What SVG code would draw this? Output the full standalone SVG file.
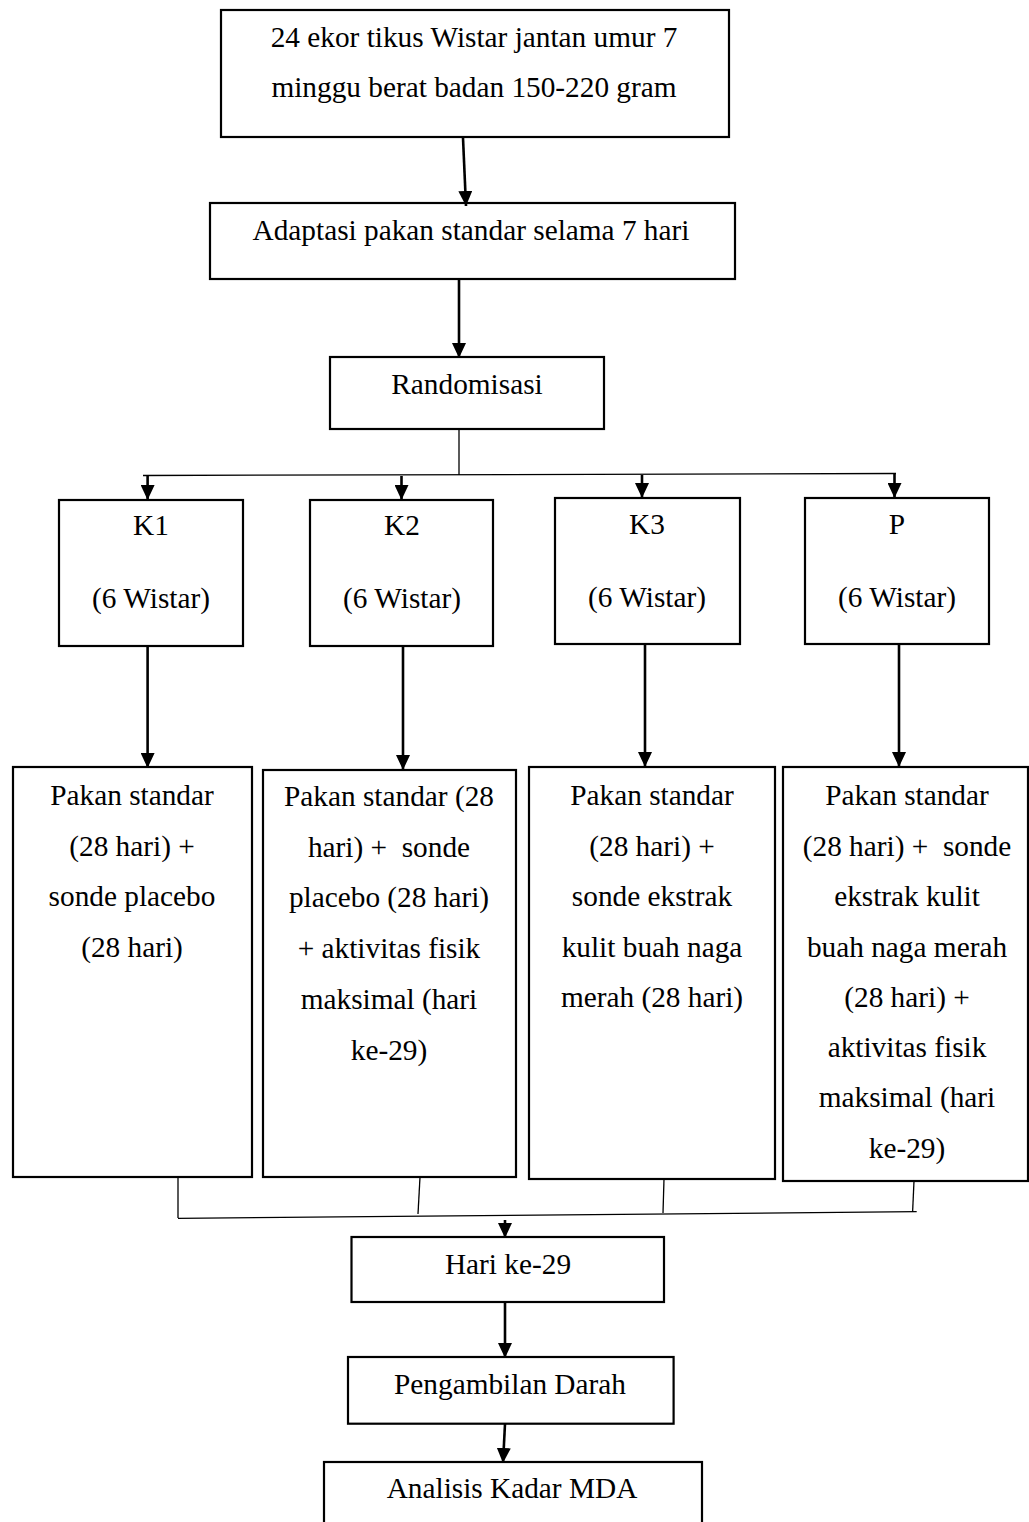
<svg xmlns="http://www.w3.org/2000/svg" width="1029" height="1522" viewBox="0 0 1029 1522">
<style>
.box{fill:#fff;stroke:#000;stroke-width:2.2}
.t{font-family:"Liberation Serif","Times New Roman",serif;font-size:29.3px;fill:#000;text-anchor:middle}
.arr{stroke:#000;stroke-width:2.6;fill:none;marker-end:url(#ah)}
.ln{stroke:#000;stroke-width:1.3;fill:none}
</style>
<defs>
<marker id="ah" markerUnits="userSpaceOnUse" viewBox="0 0 15 14" refX="15" refY="7" markerWidth="15" markerHeight="14" orient="auto">
<path d="M0,0 L15,7 L0,14 z" fill="#000"/>
</marker>
</defs>
<rect width="1029" height="1522" fill="#fff"/>
<g id="n1"><rect class="box" x="221" y="10" width="508" height="127"/>
<text class="t" x="474" y="47">24 ekor tikus Wistar jantan umur 7</text>
<text class="t" x="474" y="97">minggu berat badan 150-220 gram</text></g>
<g id="n2"><rect class="box" x="210" y="203" width="525" height="76"/>
<text class="t" x="471" y="240">Adaptasi pakan standar selama 7 hari</text></g>
<g id="n3"><rect class="box" x="330" y="357" width="274" height="72"/>
<text class="t" x="467" y="394">Randomisasi</text></g>
<g id="k1"><rect class="box" x="59" y="500" width="184" height="146"/>
<text class="t" x="151" y="535">K1</text><text class="t" x="151" y="608">(6 Wistar)</text></g>
<g id="k2"><rect class="box" x="310" y="500" width="183" height="146"/>
<text class="t" x="402" y="535">K2</text><text class="t" x="402" y="608">(6 Wistar)</text></g>
<g id="k3"><rect class="box" x="555" y="498" width="185" height="146"/>
<text class="t" x="647" y="534">K3</text><text class="t" x="647" y="607">(6 Wistar)</text></g>
<g id="p"><rect class="box" x="805" y="498" width="184" height="146"/>
<text class="t" x="897" y="534">P</text><text class="t" x="897" y="607">(6 Wistar)</text></g>
<g id="b1"><rect class="box" x="13" y="767" width="239" height="410"/>
<text class="t" x="132" y="805">Pakan standar</text>
<text class="t" x="132" y="856">(28 hari) +</text>
<text class="t" x="132" y="906">sonde placebo</text>
<text class="t" x="132" y="957">(28 hari)</text></g>
<g id="b2"><rect class="box" x="263" y="770" width="253" height="407"/>
<text class="t" x="389" y="806">Pakan standar (28</text>
<text class="t" x="389" y="857">hari) + &#160;sonde</text>
<text class="t" x="389" y="907">placebo (28 hari)</text>
<text class="t" x="389" y="958">+ aktivitas fisik</text>
<text class="t" x="389" y="1009">maksimal (hari</text>
<text class="t" x="389" y="1060">ke-29)</text></g>
<g id="b3"><rect class="box" x="529" y="767" width="246" height="412"/>
<text class="t" x="652" y="805">Pakan standar</text>
<text class="t" x="652" y="856">(28 hari) +</text>
<text class="t" x="652" y="906">sonde ekstrak</text>
<text class="t" x="652" y="957">kulit buah naga</text>
<text class="t" x="652" y="1007">merah (28 hari)</text></g>
<g id="b4"><rect class="box" x="783" y="767" width="245" height="414"/>
<text class="t" x="907" y="805">Pakan standar</text>
<text class="t" x="907" y="856">(28 hari) + &#160;sonde</text>
<text class="t" x="907" y="906">ekstrak kulit</text>
<text class="t" x="907" y="957">buah naga merah</text>
<text class="t" x="907" y="1007">(28 hari) +</text>
<text class="t" x="907" y="1057">aktivitas fisik</text>
<text class="t" x="907" y="1107">maksimal (hari</text>
<text class="t" x="907" y="1158">ke-29)</text></g>
<g id="n4"><rect class="box" x="351.5" y="1237" width="312.5" height="65"/>
<text class="t" x="508" y="1274">Hari ke-29</text></g>
<g id="n5"><rect class="box" x="348" y="1357" width="325.6" height="66.7"/>
<text class="t" x="510" y="1394">Pengambilan Darah</text></g>
<g id="n6"><rect class="box" x="324" y="1462" width="378" height="80"/>
<text class="t" x="512" y="1498">Analisis Kadar MDA</text></g>
<g id="connectors">
<line class="arr" x1="463" y1="138" x2="466" y2="206"/>
<line class="arr" x1="459" y1="280" x2="459" y2="358"/>
<line class="ln" x1="459" y1="430" x2="459" y2="475"/>
<line class="ln" x1="143" y1="475.5" x2="896" y2="473.5"/>
<line class="arr" x1="147.6" y1="476" x2="147.6" y2="500"/>
<line class="arr" x1="401.5" y1="476" x2="401.5" y2="500"/>
<line class="arr" x1="642" y1="475" x2="642" y2="498"/>
<line class="arr" x1="894.5" y1="474" x2="894.5" y2="498"/>
<line class="arr" x1="147.6" y1="646" x2="147.6" y2="768"/>
<line class="arr" x1="403" y1="646" x2="403" y2="770"/>
<line class="arr" x1="645" y1="644" x2="645" y2="767"/>
<line class="arr" x1="899" y1="644" x2="899" y2="767"/>
<line class="ln" x1="178" y1="1177" x2="178" y2="1218"/>
<line class="ln" x1="420" y1="1177" x2="418" y2="1214"/>
<line class="ln" x1="664" y1="1179" x2="663" y2="1213"/>
<line class="ln" x1="914" y1="1181" x2="912.6" y2="1212"/>
<line class="ln" x1="178" y1="1218.3" x2="916.7" y2="1211.7"/>
<line class="arr" x1="505" y1="1220" x2="505" y2="1238"/>
<line class="arr" x1="505" y1="1302" x2="505" y2="1358"/>
<line class="arr" x1="505" y1="1424" x2="503" y2="1463"/>
</g>
</svg>
